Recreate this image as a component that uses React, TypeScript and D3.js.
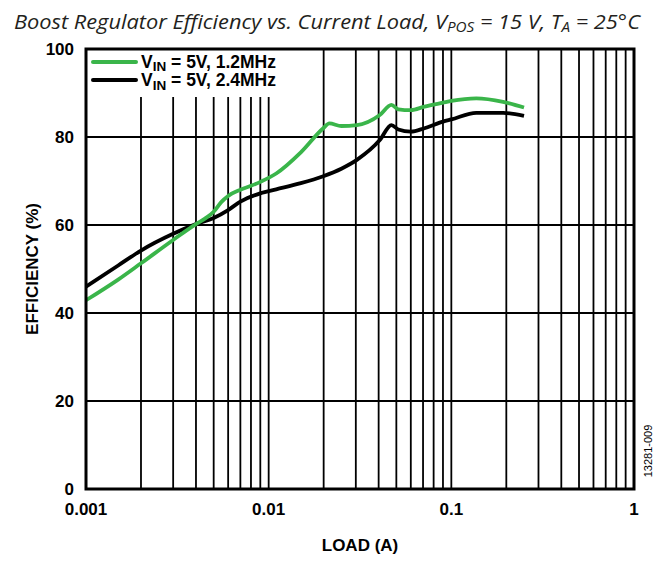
import * as d3 from "d3";

const loadGreen = [0.001, 0.0015, 0.002, 0.003, 0.004, 0.0045, 0.005, 0.0055, 0.006, 0.007, 0.008, 0.009, 0.011, 0.015, 0.0199, 0.0215, 0.025, 0.0304, 0.0406, 0.047, 0.0513, 0.06, 0.0713, 0.09, 0.1, 0.137, 0.192, 0.25];
const effGreen = [42.9, 47.6, 51.3, 56.6, 60.2, 61.5, 63.0, 65.2, 66.6, 68.0, 68.9, 69.8, 71.7, 76.5, 82.0, 83.1, 82.5, 82.7, 85.0, 87.3, 86.3, 86.1, 86.9, 87.8, 88.2, 88.8, 88.0, 86.7];

const loadBlack = [0.001, 0.0015, 0.002, 0.003, 0.004, 0.005, 0.006, 0.007, 0.009, 0.011, 0.015, 0.0199, 0.025, 0.0304, 0.0406, 0.047, 0.0513, 0.06, 0.0713, 0.09, 0.1, 0.137, 0.192, 0.25];
const effBlack = [46.0, 50.8, 54.2, 58.0, 60.2, 61.6, 63.4, 65.3, 67.2, 68.1, 69.5, 71.1, 72.8, 74.8, 79.3, 82.7, 81.7, 81.2, 82.0, 83.5, 84.0, 85.5, 85.5, 84.8];

const yTicks = [0, 20, 40, 60, 80, 100];
const xTickLabels = ["0.001", "0.01", "0.1", "1"];

const W = 665;
const H = 565;
const left = 86, right = 634, top = 49, bottom = 489;
const green = "#3AB54A";
const font = "Liberation Sans, Arial, sans-serif";

export default function App() {
  const x = d3.scaleLog().domain([0.001, 1]).range([left, right]);
  const y = d3.scaleLinear().domain([0, 100]).range([bottom, top]);

  const gridX: number[] = [];
  [0.001, 0.01, 0.1].forEach((d) => {
    for (let k = 1; k <= 9; k++) gridX.push(d * k);
  });

  const line = d3
    .line<[number, number]>()
    .x((d) => x(d[0]))
    .y((d) => y(d[1]))
    .curve(d3.curveMonotoneX);

  const gPath = line(loadGreen.map((v, i) => [v, effGreen[i]]))!;
  const bPath = line(loadBlack.map((v, i) => [v, effBlack[i]]))!;

  return (
    <svg width={W} height={H} style={{ position: "absolute", left: 0, top: 0 }}>
      <rect width={W} height={H} fill="#fff" />
      <text
        x={14}
        y={29}
        fontFamily="Open Sans, sans-serif"
        fontStyle="italic"
        fontSize={20}
        textLength={626}
        lengthAdjust="spacingAndGlyphs"
        fill="#231f20"
      >
        Boost Regulator Efficiency vs. Current Load, V
        <tspan fontSize={14} dy={3}>POS</tspan>
        <tspan dy={-3}> = 15 V, T</tspan>
        <tspan fontSize={14} dy={3}>A</tspan>
        <tspan dy={-3}> = 25°C</tspan>
      </text>

      {gridX.map((v, i) => (
        <line key={i} x1={x(v)} x2={x(v)} y1={top} y2={bottom} stroke="#000" strokeWidth={1.8} />
      ))}
      {yTicks.slice(1, -1).map((t) => (
        <line key={t} x1={left} x2={right} y1={y(t)} y2={y(t)} stroke="#000" strokeWidth={1.8} />
      ))}

      <rect x={left} y={top} width={206} height={48} fill="#fff" />

      <path d={bPath} fill="none" stroke="#000" strokeWidth={3.8} strokeLinejoin="round" />
      <path d={gPath} fill="none" stroke={green} strokeWidth={3.8} strokeLinejoin="round" />

      <rect x={left} y={top} width={right - left} height={bottom - top} fill="none" stroke="#000" strokeWidth={3} />

      <g fontFamily={font} fontWeight="bold" fontSize={17} fill="#000">
        <line x1={93} x2={136} y1={62} y2={62} stroke={green} strokeWidth={4} strokeLinecap="round" />
        <text x={141} y={67.5} fontSize={17.5}>
          V<tspan fontSize={13.5} dy={3.5}>IN</tspan>
          <tspan dy={-3.5}> = 5V, 1.2MHz</tspan>
        </text>
        <line x1={93} x2={136} y1={80} y2={80} stroke="#000" strokeWidth={4} strokeLinecap="round" />
        <text x={141} y={86} fontSize={17.5}>
          V<tspan fontSize={13.5} dy={3.5}>IN</tspan>
          <tspan dy={-3.5}> = 5V, 2.4MHz</tspan>
        </text>

        {yTicks.map((t) => (
          <text key={t} x={74} y={y(t) + 6} textAnchor="end">
            {t}
          </text>
        ))}
        {xTickLabels.map((t) => (
          <text key={t} x={x(+t)} y={515} textAnchor="middle">
            {t}
          </text>
        ))}
        <text x={360} y={551} textAnchor="middle">LOAD (A)</text>
        <text transform={`translate(38,${(top + bottom) / 2}) rotate(-90)`} textAnchor="middle">
          EFFICIENCY (%)
        </text>
      </g>
      <text
        transform="translate(652,451) rotate(-90)"
        textAnchor="middle"
        fontFamily={font}
        fontSize={11}
        fill="#000"
      >
        13281-009
      </text>
    </svg>
  );
}
